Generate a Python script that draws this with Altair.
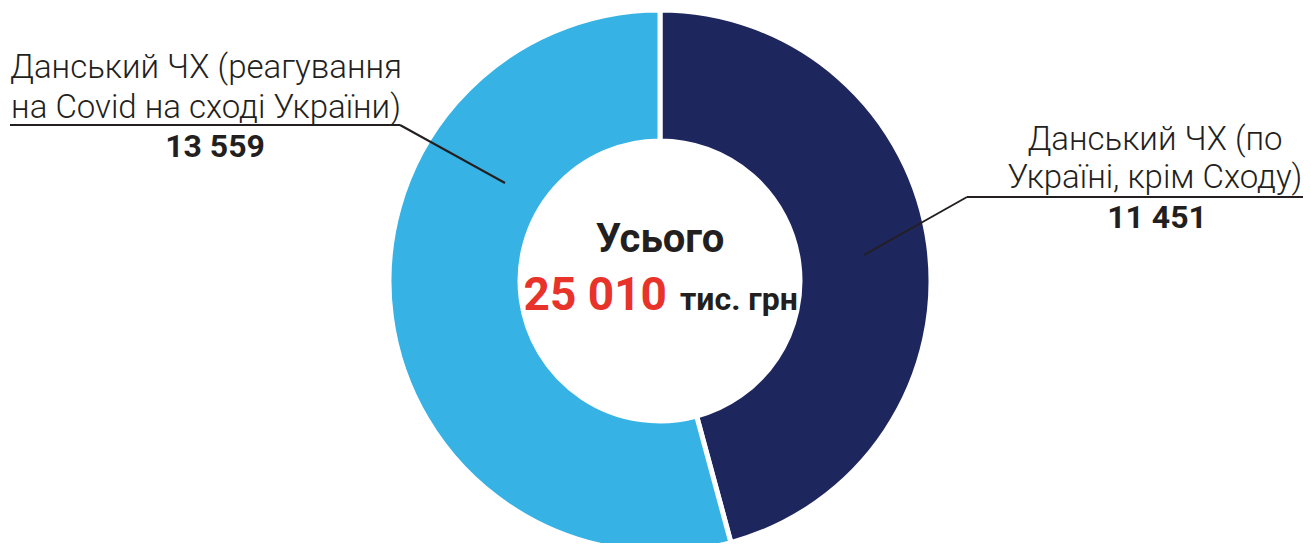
import altair as alt
import pandas as pd

categories = ["Данський ЧХ (по Україні, крім Сходу)", "Данський ЧХ (реагування на Covid на сході України)"]
values = [11451, 13559]
colors = ["#1e265e", "#36b2e5"]
total_label = "25 010"

# chart coordinates = page coordinates - 8 (page margin)
CX, CY = 652, 273
R_OUT, R_IN = 271, 140

df = pd.DataFrame({"cat": categories, "value": values, "order": [0, 1]})

donut = alt.Chart(df).mark_arc(radius=R_OUT, innerRadius=R_IN, stroke="white", strokeWidth=5).encode(
    theta=alt.Theta("value:Q", stack=True),
    order=alt.Order("order:Q"),
    color=alt.Color("cat:N", scale=alt.Scale(domain=categories, range=colors), legend=None),
    x=alt.value(CX),
    y=alt.value(CY),
)

label_lines = pd.DataFrame({
    "text": ["Данський ЧХ (реагування", "на Covid на сході України)",
             "Данський ЧХ (по", "Україні, крім Сходу)"],
    "x": [198, 198, 1147, 1147],
    "y": [70, 110, 142, 180],
})
value_lines = pd.DataFrame({
    "text": ["13 559", "11 451"],
    "x": [207, 1149],
    "y": [149, 220],
})

def text_layer(frame, **kw):
    layers = []
    for _, r in frame.iterrows():
        layers.append(alt.Chart(pd.DataFrame({"t": [r["text"]]})).mark_text(
            font="Roboto", baseline="alphabetic", align="center", **kw
        ).encode(text="t:N", x=alt.value(r["x"]), y=alt.value(r["y"])))
    return layers

labels = text_layer(label_lines, fontSize=33, fontWeight=300, color="#231f20")
nums = text_layer(value_lines, fontSize=32, fontWeight="bold", color="#231f20")

center = [
    alt.Chart(pd.DataFrame({"t": ["Усього"]})).mark_text(
        font="Roboto", fontSize=40, fontWeight="bold", color="#231f20", baseline="alphabetic", align="center"
    ).encode(text="t:N", x=alt.value(652), y=alt.value(244)),
    alt.Chart(pd.DataFrame({"t": [total_label]})).mark_text(
        font="Roboto", fontSize=46, fontWeight="bold", color="#e8332a", baseline="alphabetic", align="right"
    ).encode(text="t:N", x=alt.value(659), y=alt.value(302)),
    alt.Chart(pd.DataFrame({"t": ["тис. грн"]})).mark_text(
        font="Roboto", fontSize=32, fontWeight="bold", color="#231f20", baseline="alphabetic", align="left"
    ).encode(text="t:N", x=alt.value(672), y=alt.value(302)),
]

seg = pd.DataFrame({
    "x": [2, 392, 959, 959],
    "y": [117, 117, 189, 189],
    "x2": [392, 497, 1295, 856],
    "y2": [117, 175, 189, 247],
})
rules = []
for _, r in seg.iterrows():
    rules.append(alt.Chart(pd.DataFrame({"a": [0]})).mark_rule(color="#231f20", strokeWidth=2).encode(
        x=alt.value(r["x"]), y=alt.value(r["y"]), x2=alt.value(r["x2"]), y2=alt.value(r["y2"])))

chart = alt.layer(donut, *rules, *labels, *nums, *center).properties(
    width=1295, height=535, padding=0, autosize=alt.AutoSizeParams(type="none")
).configure_view(stroke=None)

chart.save("out.html", embed_options={"renderer": "svg", "actions": False})
